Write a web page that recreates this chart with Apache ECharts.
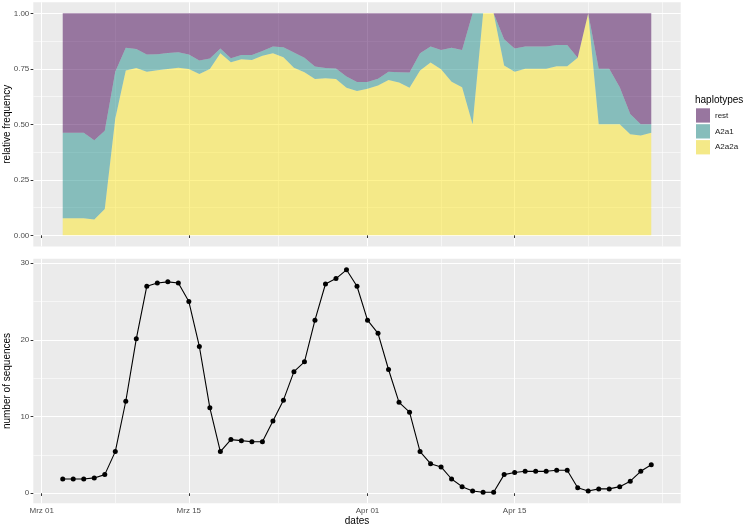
<!DOCTYPE html>
<html><head><meta charset="utf-8">
<script src="https://cdn.jsdelivr.net/npm/echarts@6/dist/echarts.min.js"></script>
<style>html,body{margin:0;padding:0;background:#fff}#c{width:745px;height:527px}</style>
</head><body><div id="c"></div>
<script>
const dates = [
 "2020-03-03","2020-03-04","2020-03-05","2020-03-06","2020-03-07","2020-03-08","2020-03-09","2020-03-10",
 "2020-03-11","2020-03-12","2020-03-13","2020-03-14","2020-03-15","2020-03-16","2020-03-17","2020-03-18",
 "2020-03-19","2020-03-20","2020-03-21","2020-03-22","2020-03-23","2020-03-24","2020-03-25","2020-03-26",
 "2020-03-27","2020-03-28","2020-03-29","2020-03-30","2020-03-31","2020-04-01","2020-04-02","2020-04-03",
 "2020-04-04","2020-04-05","2020-04-06","2020-04-07","2020-04-08","2020-04-09","2020-04-10","2020-04-11",
 "2020-04-12","2020-04-13","2020-04-14","2020-04-15","2020-04-16","2020-04-17","2020-04-18","2020-04-19",
 "2020-04-20","2020-04-21","2020-04-22","2020-04-23","2020-04-24","2020-04-25","2020-04-26","2020-04-27",
 "2020-04-28"];
const A2a2a = [0.077,0.077,0.077,0.071,0.118,0.526,0.742,0.754,0.737,0.743,
 0.749,0.755,0.749,0.727,0.749,0.820,0.779,0.793,0.790,0.809,
 0.820,0.802,0.755,0.734,0.704,0.707,0.704,0.665,0.650,0.660,
 0.675,0.700,0.688,0.665,0.742,0.778,0.748,0.692,0.667,0.5,
 1,1,0.765,0.737,0.75,0.75,0.75,0.762,0.762,0.8,
 1,0.5,0.5,0.5,0.455,0.45,0.462];
const A2a1 = [0.385,0.385,0.385,0.357,0.353,0.211,0.103,0.085,0.077,0.072,
 0.072,0.069,0.065,0.060,0.047,0.022,0.018,0.019,0.022,0.021,
 0.030,0.045,0.068,0.066,0.056,0.047,0.047,0.050,0.041,0.031,
 0.030,0.037,0.046,0.068,0.078,0.072,0.087,0.153,0.168,0.5,
 0,0,0.118,0.105,0.1,0.1,0.1,0.095,0.095,0,
 0,0.25,0.25,0.167,0.091,0.05,0.038];
const rest = [0.538,0.538,0.538,0.572,0.529,0.263,0.155,0.161,0.186,0.185,
 0.179,0.176,0.186,0.213,0.204,0.158,0.203,0.188,0.188,0.170,
 0.150,0.153,0.177,0.200,0.240,0.246,0.249,0.285,0.309,0.309,
 0.295,0.263,0.266,0.267,0.180,0.150,0.165,0.155,0.165,0,
 0,0,0.117,0.158,0.15,0.15,0.15,0.143,0.143,0.2,
 0,0.25,0.25,0.333,0.454,0.5,0.5];
const sequences = [1.86,1.86,1.86,2.0,2.43,5.43,12.0,20.14,27.0,27.43,
 27.57,27.43,25.0,19.14,11.14,5.43,7.0,6.86,6.71,6.71,
 9.43,12.14,15.86,17.14,22.57,27.29,28.0,29.14,27.0,22.57,
 20.86,16.14,11.86,10.57,5.43,3.86,3.43,1.86,0.86,0.29,
 0.14,0.14,2.43,2.71,2.86,2.86,2.86,3.0,3.0,0.71,
 0.29,0.57,0.57,0.86,1.57,2.86,3.71];
const haplotypes = ["rest","A2a1","A2a2a"];
const xMajorDates = ["2020-03-01","2020-03-15","2020-04-01","2020-04-15"];
const xMajorLabels = ["Mrz 01","Mrz 15","Apr 01","Apr 15"];
const xMinorDates = ["2020-03-08T00:00:00Z","2020-03-23T12:00:00Z","2020-04-08T00:00:00Z","2020-04-22T00:00:00Z","2020-04-29T00:00:00Z"];
const freqTicks = [0,0.25,0.5,0.75,1];
const freqMinor = [0.125,0.375,0.625,0.875];
const seqTicks = [0,10,20,30];
const seqMinor = [5,15,25];

const FONT = '"Liberation Sans", Arial, Helvetica, sans-serif';
const ms = s => Date.parse(s.length === 10 ? s + "T00:00:00Z" : s);
const dX = dates.map(ms);
const xMajorX = xMajorDates.map(ms);
const xMinorX = xMinorDates.map(ms);
const xSpan = dX[dX.length-1] - dX[0];
const xMin = dX[0] - 0.05*xSpan, xMax = dX[dX.length-1] + 0.05*xSpan;
const sMin = Math.min(...sequences), sMax = Math.max(...sequences), sSpan = sMax - sMin;
const fillRGBA = {rest:'rgba(68,1,84,0.5)', A2a1:'rgba(33,144,140,0.5)', A2a2a:'rgba(253,231,37,0.5)'};
const fillSolid = {rest:'#98769F', A2a1:'#86BDBB', A2a2a:'#F4E988'};
const vals = {rest:rest, A2a1:A2a1, A2a2a:A2a2a};

function xData(gi) {
  return {type:'time', gridIndex:gi, min:xMin, max:xMax, position:'bottom',
    axisLine:{show:false}, axisTick:{show:false}, axisLabel:{show:false}, splitLine:{show:false}};
}
function xGrid(gi, minor) {
  return {type:'value', gridIndex:gi, min:xMin, max:xMax, position:'bottom',
    axisLine:{show:false},
    axisTick:{show:!minor, customValues: minor ? xMinorX : xMajorX, length:2.7, lineStyle:{color:'#333333', width:1}},
    axisLabel:{show:!minor && gi === 1, customValues:xMajorX, color:'#4D4D4D', fontSize:8, margin:3.5, fontFamily:FONT,
      formatter: v => { const k = xMajorX.indexOf(v); return k >= 0 ? xMajorLabels[k] : ''; }},
    splitLine:{show:true, lineStyle:{color:'#FFFFFF', width: minor ? 0.55 : 1.07}}
  };
}
function yAx(gi, minor, ticks, minorTicks, min, max, fmt) {
  return {type:'value', gridIndex:gi, min:min, max:max, position:'left',
    axisLine:{show:false},
    axisTick:{show:!minor, customValues: minor ? minorTicks : ticks, length:2.7, lineStyle:{color:'#333333', width:1}},
    axisLabel:{show:!minor, customValues:ticks, color:'#4D4D4D', fontSize:8, margin:4, fontFamily:FONT, formatter:fmt},
    splitLine:{show:true, lineStyle:{color:'#FFFFFF', width: minor ? 0.55 : 1.07}}
  };
}

const chart = echarts.init(document.getElementById('c'), null, {renderer:'canvas'});
const stackOrder = ["A2a2a","A2a1","rest"];
chart.setOption({
  animation:false,
  backgroundColor:'#FFFFFF',
  grid:[
    {left:33.3, top:2.2, width:647.4, height:244.2, show:true, backgroundColor:'#EBEBEB', borderWidth:0},
    {left:33.3, top:258.7, width:647.4, height:244.6, show:true, backgroundColor:'#EBEBEB', borderWidth:0}
  ],
  xAxis:[xData(0), xGrid(0,false), xGrid(0,true), xData(1), xGrid(1,false), xGrid(1,true)],
  yAxis:[
    yAx(0,false,freqTicks,freqMinor,-0.05,1.05, v => v.toFixed(2)),
    yAx(0,true,freqTicks,freqMinor,-0.05,1.05, v => v.toFixed(2)),
    yAx(1,false,seqTicks,seqMinor,sMin-0.05*sSpan,sMax+0.05*sSpan, v => String(Math.round(v))),
    yAx(1,true,seqTicks,seqMinor,sMin-0.05*sSpan,sMax+0.05*sSpan, v => String(Math.round(v)))
  ],
  legend:{
    data: haplotypes.map(n => ({name:n, itemStyle:{color:fillSolid[n], borderWidth:0}})),
    orient:'vertical', left:696, top:108.3, padding:0, itemWidth:14, itemHeight:14.3, itemGap:1.6, icon:'rect',
    selectedMode:false, textStyle:{fontSize:8, color:'#1A1A1A', fontFamily:FONT}
  },
  graphic:[
    {type:'text', x:7.5, y:124.3, rotation:Math.PI/2, style:{text:'relative frequency', fontSize:10, fontFamily:FONT, fill:'#000', align:'center', verticalAlign:'middle'}},
    {type:'text', x:7.5, y:381, rotation:Math.PI/2, style:{text:'number of sequences', fontSize:10, fontFamily:FONT, fill:'#000', align:'center', verticalAlign:'middle'}},
    {type:'text', x:357, y:521.5, style:{text:'dates', fontSize:10, fontFamily:FONT, fill:'#000', align:'center', verticalAlign:'middle'}},
    {type:'text', x:695, y:100, style:{text:'haplotypes', fontSize:10, fontFamily:FONT, fill:'#000', align:'left', verticalAlign:'middle'}}
  ],
  series: stackOrder.map(n => ({
    name:n, type:'line', xAxisIndex:0, yAxisIndex:0, stack:'freq', symbol:'none', showSymbol:false,
    color:fillSolid[n], lineStyle:{width:0, opacity:0}, areaStyle:{color:fillRGBA[n], opacity:1},
    data: dX.map((t,i) => [t, vals[n][i]]), silent:true
  })).concat([{
    name:'sequences', type:'line', xAxisIndex:3, yAxisIndex:2, symbol:'circle', symbolSize:5,
    color:'#000000', lineStyle:{color:'#000000', width:1.1}, itemStyle:{color:'#000000'},
    data: dX.map((t,i) => [t, sequences[i]]), silent:true
  }])
});
</script>
</body></html>
